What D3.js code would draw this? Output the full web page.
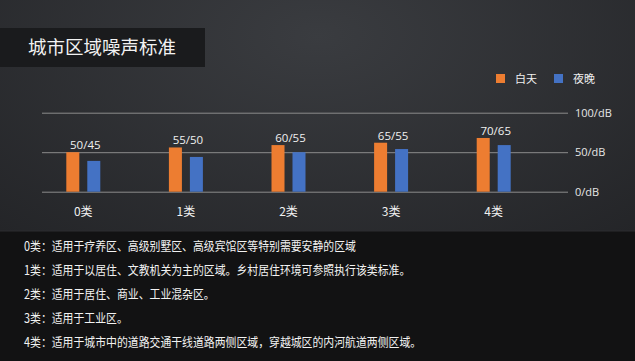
<!DOCTYPE html>
<html>
<head>
<meta charset="utf-8">
<script src="https://cdn.jsdelivr.net/npm/d3@7"></script>
<style>
    html, body { margin: 0; padding: 0; background: #1b1c1e; }
    svg { display: block; font-family: "Noto Sans CJK SC", "Noto Sans", sans-serif; }
</style>
</head>
<body>
<div id="chart"></div>
<script>
const categories = ['0类', '1类', '2类', '3类', '4类'];
const series = ['白天', '夜晚'];
// bar heights as drawn in the picture
const dayValues = [50, 56, 59, 62, 68];
const nightValues = [39, 44, 50, 54, 59];
// labels printed above each group
const valueLabels = ['50/45', '55/50', '60/55', '65/55', '70/65'];
const yTicks = [0, 50, 100];
const notes = [
    '0类：适用于疗养区、高级别墅区、高级宾馆区等特别需要安静的区域',
    '1类：适用于以居住、文教机关为主的区域。乡村居住环境可参照执行该类标准。',
    '2类：适用于居住、商业、工业混杂区。',
    '3类：适用于工业区。',
    '4类：适用于城市中的道路交通干线道路两侧区域，穿越城区的内河航道两侧区域。'
];

const width = 635, height = 361;
const colorScale = d3.scaleOrdinal().domain(series).range(['#ed7d31', '#4472c4']);

const svg = d3.select('#chart').append('svg')
    .attr('width', width)
    .attr('height', height);

// background
const defs = svg.append('defs');
const bg = defs.append('radialGradient')
    .attr('id', 'bg')
    .attr('cx', '50%').attr('cy', '10%').attr('r', '80%');
bg.append('stop').attr('offset', '0%').attr('stop-color', '#3a3c40');
bg.append('stop').attr('offset', '100%').attr('stop-color', '#222326');

svg.append('rect').attr('width', width).attr('height', height).attr('fill', 'url(#bg)');
svg.append('rect').attr('y', 231).attr('width', width).attr('height', height - 231).attr('fill', '#121213');
svg.append('line')
    .attr('x1', 0).attr('x2', width).attr('y1', 231).attr('y2', 231)
    .attr('stroke', '#2c2d30').attr('stroke-width', 1);

// title box
svg.append('rect').attr('x', 0).attr('y', 28).attr('width', 205).attr('height', 39).attr('fill', '#1a1b1d');
svg.append('text')
    .attr('x', 28).attr('y', 54)
    .attr('fill', '#f2f2f2')
    .attr('font-size', 18.5)
    .text('城市区域噪声标准');

// scales
const xScale = d3.scaleBand()
    .domain(categories)
    .range([32, 545]);

const innerScale = d3.scaleBand()
    .domain(series)
    .range([0, 34])
    .paddingInner(0.38);

const yScale = d3.scaleLinear()
    .domain([0, 100])
    .range([191.7, 112.7]);

// gridlines + y labels
const yAxis = d3.axisRight(yScale)
    .tickValues(yTicks)
    .tickFormat(d => `${d}/dB`)
    .tickSize(-(568 - 42))
    .tickPadding(7);

const gY = svg.append('g')
    .attr('transform', 'translate(568,0)')
    .call(yAxis);
gY.select('.domain').remove();
gY.selectAll('.tick line').attr('stroke', '#8c8c8c').attr('stroke-width', 1);
gY.selectAll('.tick text')
    .attr('fill', '#e6e6e6')
    .attr('font-size', 11)
    .attr('font-family', '"Open Sans", "Noto Sans", sans-serif');

// bars
const groupOffset = (xScale.bandwidth() - 34) / 2;
const rows = categories.map((c, i) => ({key: c, values: [dayValues[i], nightValues[i]], label: valueLabels[i]}));

const groups = svg.append('g')
    .selectAll('g')
    .data(rows)
    .enter().append('g')
    .attr('transform', d => `translate(${xScale(d.key) + groupOffset},0)`);

groups.selectAll('rect')
    .data(d => d.values.map((v, j) => ({type: series[j], value: v})))
    .enter().append('rect')
    .attr('x', d => innerScale(d.type))
    .attr('y', d => yScale(d.value))
    .attr('width', innerScale.bandwidth())
    .attr('height', d => yScale(0) - yScale(d.value))
    .attr('fill', d => colorScale(d.type));

groups.append('text')
    .attr('x', 19)
    .attr('y', d => yScale(d.values[0]) - 3)
    .attr('text-anchor', 'middle')
    .attr('fill', '#f0f0f0')
    .attr('font-size', 11.5)
    .attr('font-family', '"Open Sans", "Noto Sans", sans-serif')
    .text(d => d.label);

// category labels
svg.append('g')
    .selectAll('text')
    .data(categories)
    .enter().append('text')
    .attr('x', d => xScale(d) + xScale.bandwidth() / 2)
    .attr('y', 216)
    .attr('text-anchor', 'middle')
    .attr('fill', '#f0f0f0')
    .attr('font-size', 12)
    .text(d => d);

// legend
const legend = svg.append('g')
    .selectAll('g')
    .data(series)
    .enter().append('g')
    .attr('transform', (d, i) => `translate(${496 + i * 58},74)`);
legend.append('rect')
    .attr('width', 9).attr('height', 9)
    .attr('fill', d => colorScale(d));
legend.append('text')
    .attr('x', 19).attr('y', 8.5)
    .attr('fill', '#f0f0f0')
    .attr('font-size', 11)
    .text(d => d);

// notes (the source font is a narrow one, so squeeze horizontally)
svg.append('g')
    .attr('transform', 'translate(24,0) scale(0.87,1)')
    .selectAll('text')
    .data(notes)
    .enter().append('text')
    .attr('x', 0)
    .attr('y', (d, i) => 251.5 + i * 24)
    .attr('fill', '#f2f2f2')
    .attr('font-size', 12.5)
    .text(d => d);
</script>
</body>
</html>
